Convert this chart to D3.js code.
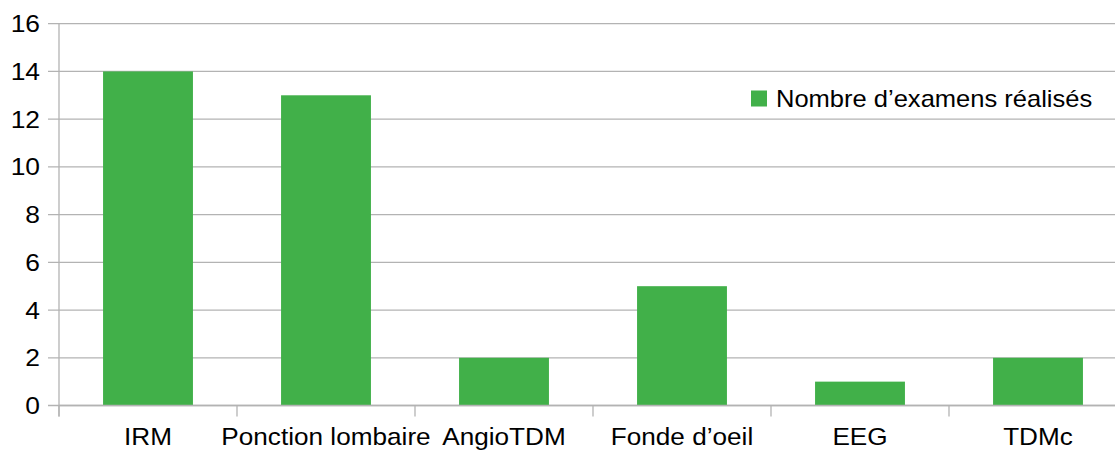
<!DOCTYPE html>
<html><head><meta charset="utf-8">
<script src="https://cdn.jsdelivr.net/npm/d3@7"></script>
<style>body{margin:0;background:#fff}svg{display:block}</style>
</head><body>
<script>
const categories = ["IRM","Ponction lombaire","AngioTDM","Fonde d’oeil","EEG","TDMc"];
const values = [14,13,2,5,1,2];
const yTicks = [0,2,4,6,8,10,12,14,16];
const seriesName = "Nombre d’examens réalisés";

const W=1115,H=450;
const svg=d3.select("body").append("svg").attr("width",W).attr("height",H)
  .style("font-family","'Liberation Sans', Arial, sans-serif");
const x0=59, x1=1127, yTop=23.7, yBot=405.5;
const x=d3.scaleBand().domain(categories).range([x0,x1]).paddingInner(0.495).paddingOuter(0.2475);
const y=d3.scaleLinear().domain([0,16]).range([yBot,yTop]);
const grid="#b3b3b3", color="#41b049";
const SX=1.1;

// gridlines
svg.append("g").selectAll("line").data(yTicks).join("line")
  .attr("x1",48).attr("x2",W).attr("y1",d=>y(d)).attr("y2",d=>y(d))
  .attr("stroke",grid).attr("stroke-width",1.3);
// y labels
svg.append("g").selectAll("text").data(yTicks).join("text")
  .attr("transform",d=>`translate(40,${y(d)+8.5}) scale(${SX},1)`).attr("text-anchor","end")
  .attr("font-size",24).attr("fill","#000").text(d=>d);
// y axis line
svg.append("line").attr("x1",x0).attr("x2",x0).attr("y1",yTop).attr("y2",yBot+11)
  .attr("stroke",grid).attr("stroke-width",1.3);
// bars
svg.append("g").selectAll("rect").data(values).join("rect")
  .attr("x",(d,i)=>x(categories[i])).attr("width",x.bandwidth())
  .attr("y",d=>y(d)).attr("height",d=>y(0)-y(d)).attr("fill",color);
// x axis baseline
svg.append("line").attr("x1",x0).attr("x2",W).attr("y1",yBot).attr("y2",yBot)
  .attr("stroke",grid).attr("stroke-width",1.5);
// band boundary ticks
const step=x.step();
const bounds=d3.range(categories.length+1).map(i=>x0+i*step);
svg.append("g").selectAll("line").data(bounds).join("line")
  .attr("x1",d=>d).attr("x2",d=>d).attr("y1",yBot).attr("y2",yBot+11)
  .attr("stroke",grid).attr("stroke-width",1.3);
// x labels
svg.append("g").selectAll("text").data(categories).join("text")
  .attr("transform",d=>`translate(${x(d)+x.bandwidth()/2},444.8) scale(1.09,1)`).attr("text-anchor","middle")
  .attr("font-size",24).attr("fill","#000").text(d=>d);
// legend
svg.append("rect").attr("x",751).attr("y",90.5).attr("width",16).attr("height",16).attr("fill",color);
svg.append("text").attr("transform","translate(776,106.5) scale(1.11,1)").attr("font-size",23).attr("fill","#000").text(seriesName);
</script>
</body></html>
